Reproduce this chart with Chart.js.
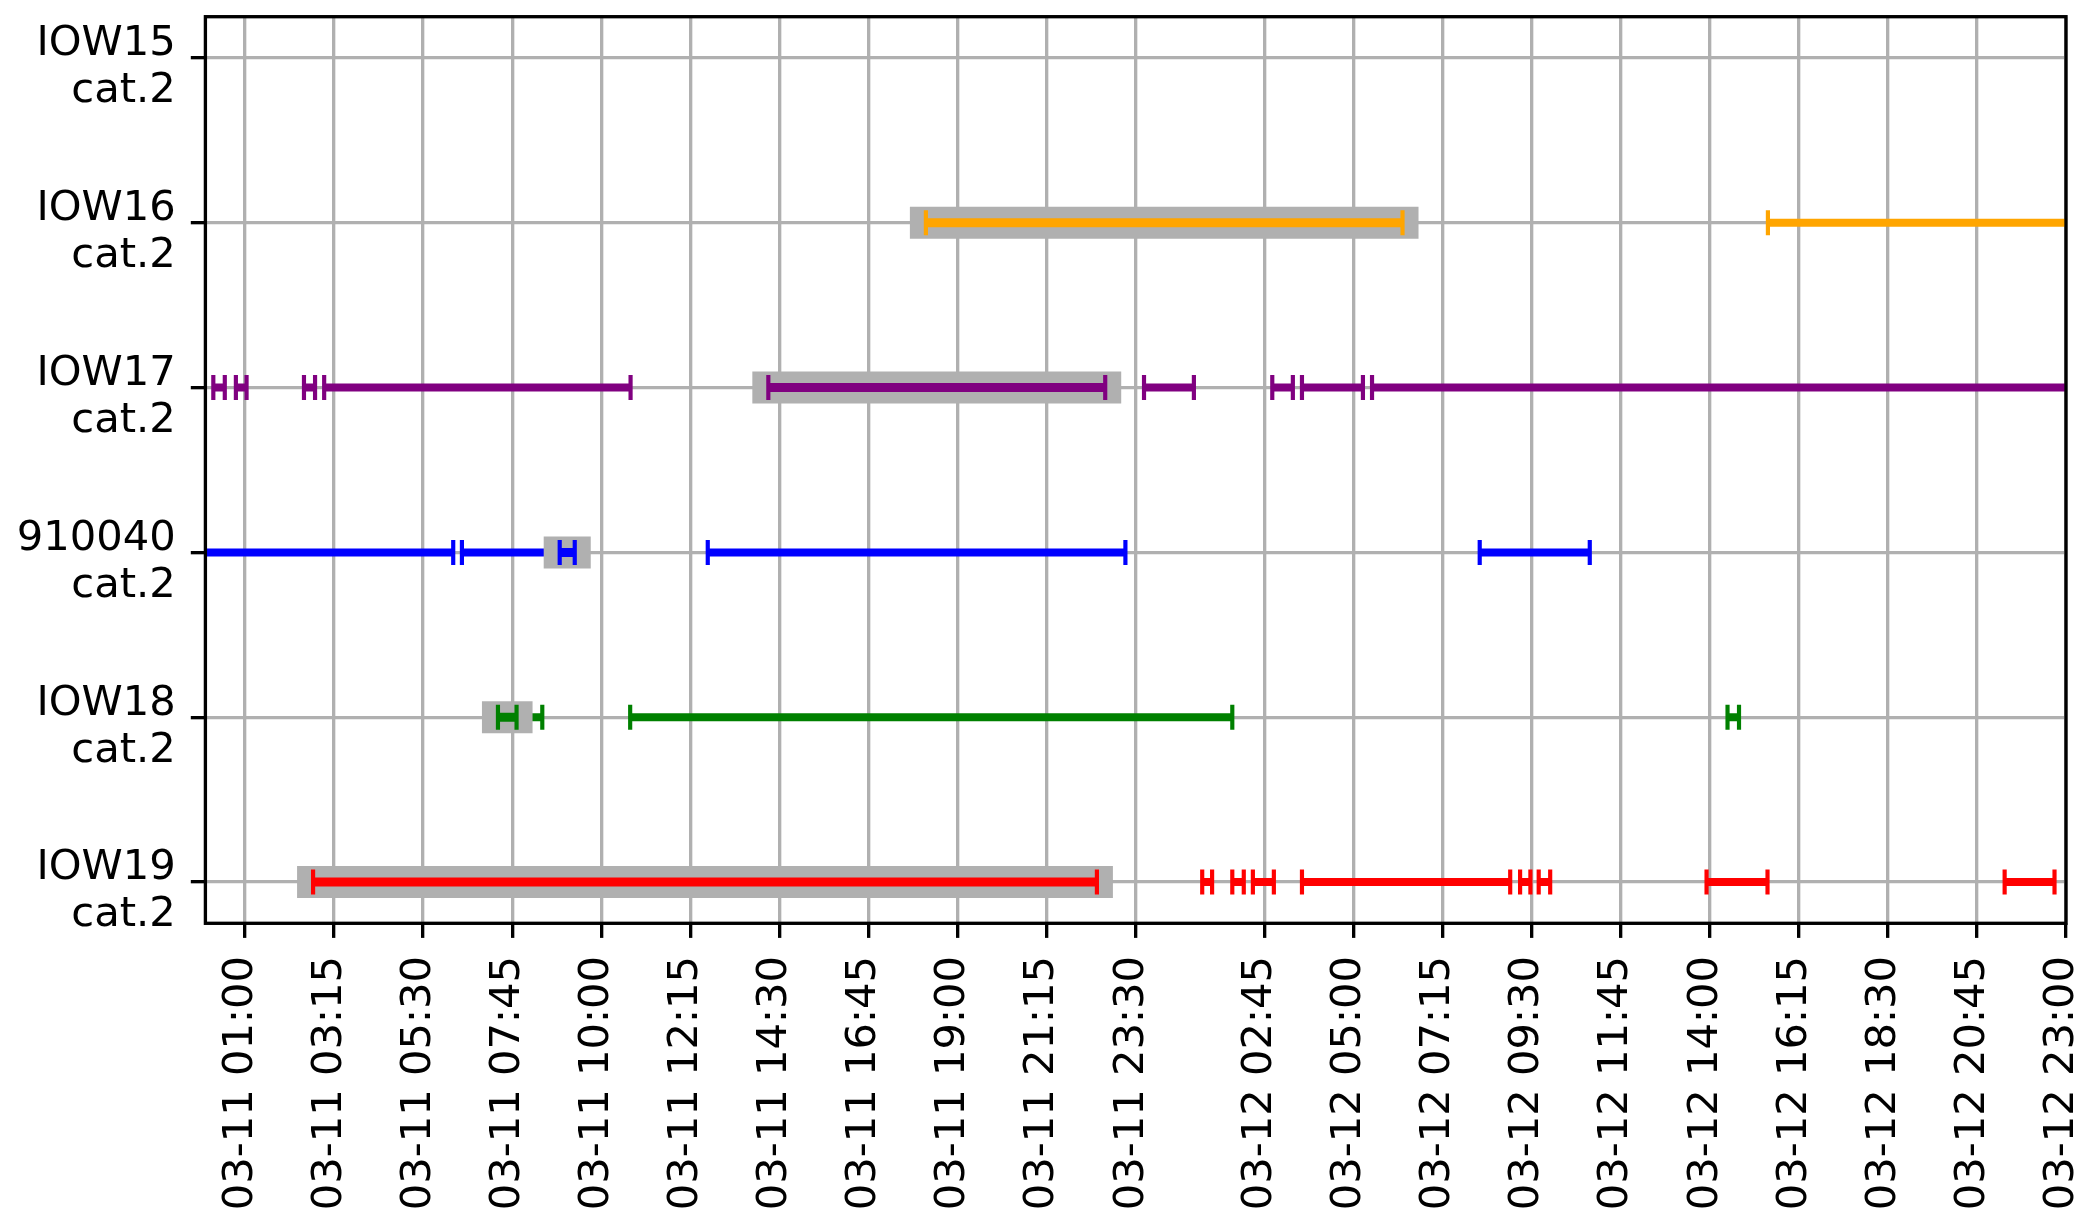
<!DOCTYPE html>
<html>
<head>
<meta charset="utf-8">
<script src="https://cdn.jsdelivr.net/npm/chart.js@4/dist/chart.umd.min.js"></script>
<style>html,body{margin:0;padding:0;background:#fff}canvas{display:block}</style>
</head>
<body>
<canvas id="c" width="2100" height="1226"></canvas>
<script>
// ---- data (x values are hours elapsed since 03-11 00:00) ----
const categories = ['IOW15', 'IOW16', 'IOW17', '910040', 'IOW18', 'IOW19'];
const categorySubLabels = ['cat.2', 'cat.2', 'cat.2', 'cat.2', 'cat.2', 'cat.2'];
const xTickHours = [1, 3.25, 5.5, 7.75, 10, 12.25, 14.5, 16.75, 19, 21.25, 23.5,
                    26.75, 29, 31.25, 33.5, 35.75, 38, 40.25, 42.5, 44.75, 47];
const xTickLabels = ['03-11 01:00', '03-11 03:15', '03-11 05:30', '03-11 07:45', '03-11 10:00',
                     '03-11 12:15', '03-11 14:30', '03-11 16:45', '03-11 19:00', '03-11 21:15',
                     '03-11 23:30', '03-12 02:45', '03-12 05:00', '03-12 07:15', '03-12 09:30',
                     '03-12 11:45', '03-12 14:00', '03-12 16:15', '03-12 18:30', '03-12 20:45',
                     '03-12 23:00'];
const xRange = [0, 47];

const iow15Segments = [];
const iow15Highlight = null;
const iow16Segments = [[39.47, 48]];
const iow16Highlight = [18.20, 30.24];
const iow17Segments = [[0.20, 0.49], [0.77, 1.04], [2.49, 2.77], [3.00, 10.74],
                       [23.71, 24.97], [26.95, 27.47], [27.70, 29.24], [29.47, 48]];
const iow17Highlight = [14.22, 22.73];
const s910040Segments = [[-1, 6.26], [6.48, 8.95], [12.69, 23.24], [32.19, 34.97]];
const s910040Highlight = [8.95, 9.33];
const iow18Segments = [[7.86, 8.51], [10.73, 25.94], [38.45, 38.74]];
const iow18Highlight = [7.39, 7.86];
const iow19Segments = [[25.18, 25.43], [25.94, 26.23], [26.46, 26.99], [27.70, 32.96],
                       [33.21, 33.47], [33.68, 33.97], [37.92, 39.46], [45.45, 46.71]];
const iow19Highlight = [2.72, 22.52];

// ---- styles ----
const seriesColors = ['#1f77b4', 'orange', 'purple', 'blue', 'green', 'red'];
const highlightColor = '#b0b0b0';
const FONT = 41.67;

const allSegments = [iow15Segments, iow16Segments, iow17Segments, s910040Segments, iow18Segments, iow19Segments];
const allHighlights = [iow15Highlight, iow16Highlight, iow17Highlight, s910040Highlight, iow18Highlight, iow19Highlight];

function segData(segs, yIndex) {
  const out = [];
  segs.forEach(([a, b]) => {
    out.push({x: a, y: yIndex}, {x: b, y: yIndex}, {x: b, y: null});
  });
  return out;
}

function markStyle(color, order, width) {
  return {
    borderColor: color, backgroundColor: color, borderWidth: width, borderCapStyle: 'butt',
    pointStyle: 'line', pointRotation: 90, pointRadius: 12.5, pointHoverRadius: 12.5,
    pointBorderWidth: 4.17, pointBorderColor: color, pointBackgroundColor: color,
    spanGaps: false, order: order, clip: 0
  };
}

const datasets = [];
categories.forEach((cat, i) => {
  const color = seriesColors[i];
  if (allSegments[i].length) {
    datasets.push(Object.assign({label: cat, data: segData(allSegments[i], i)}, markStyle(color, 3, 8)));
  }
  const h = allHighlights[i];
  if (h) {
    datasets.push({
      label: cat + ' highlight', data: segData([h], i),
      borderColor: highlightColor, borderWidth: 32, borderCapStyle: 'square',
      pointRadius: 0, pointHoverRadius: 0, spanGaps: false, order: 2, clip: false
    });
    datasets.push(Object.assign({label: cat + ' selected', data: segData([h], i)}, markStyle(color, 1, 9)));
  }
});

const framePlugin = {
  id: 'frame',
  afterDraw(chart) {
    const {ctx, chartArea: a} = chart;
    ctx.save();
    ctx.strokeStyle = '#000';
    ctx.lineWidth = 3.33;
    ctx.strokeRect(a.left, a.top, a.right - a.left, a.bottom - a.top);
    ctx.restore();
  }
};

new Chart(document.getElementById('c'), {
  type: 'line',
  data: {datasets},
  plugins: [framePlugin],
  options: {
    responsive: false,
    devicePixelRatio: 1,
    animation: false,
    events: [],
    layout: {padding: {left: 0, top: 16.7, right: 34, bottom: 0}},
    plugins: {legend: {display: false}, tooltip: {enabled: false}},
    scales: {
      x: {
        type: 'linear',
        min: xRange[0], max: xRange[1],
        border: {display: false},
        grid: {color: '#b0b0b0', lineWidth: 3.33, tickColor: '#000', tickWidth: 3.33, tickLength: 14.6, drawTicks: true},
        ticks: {
          autoSkip: false, minRotation: 90, maxRotation: 90, padding: 18, labelOffset: -4,
          color: '#000', font: {family: 'DejaVu Sans', size: FONT, lineHeight: '48px'},
          callback: (v, idx) => xTickLabels[idx]
        },
        afterBuildTicks: (s) => { s.ticks = xTickHours.map(v => ({value: v})); },
        afterFit: (s) => { s.height = 302.7; s.paddingLeft = 0; s.paddingRight = 0; }
      },
      y: {
        type: 'linear',
        reverse: true,
        min: -0.25, max: 5.25,
        border: {display: false},
        grid: {color: '#b0b0b0', lineWidth: 3.33, tickColor: '#000', tickWidth: 3.33, tickLength: 14.6, drawTicks: true},
        ticks: {
          padding: 15, labelOffset: 10, color: '#000',
          font: {family: 'DejaVu Sans', size: FONT, lineHeight: '47px'},
          callback: (v) => [categories[v], categorySubLabels[v]]
        },
        afterBuildTicks: (s) => { s.ticks = categories.map((c, i) => ({value: i})); },
        afterFit: (s) => { s.width = 205.4; s.paddingTop = 0; s.paddingBottom = 0; }
      }
    }
  }
});
</script>
</body>
</html>
